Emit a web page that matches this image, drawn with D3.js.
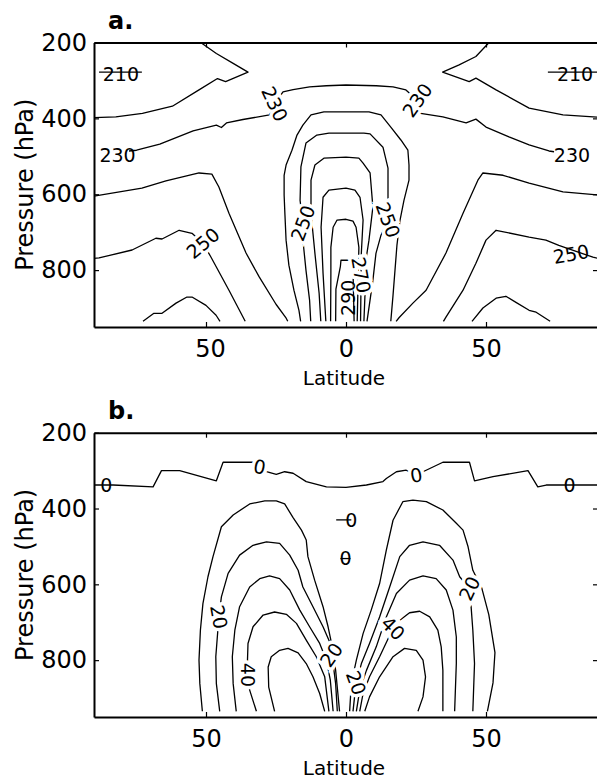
<!DOCTYPE html>
<html>
<head>
<meta charset="utf-8">
<script src="https://cdn.jsdelivr.net/npm/d3@7"></script>
<style>
  body { margin: 0; background: #fff; }
  svg { display: block; }
  text { font-family: "DejaVu Sans", sans-serif; fill: #000; }
</style>
</head>
<body>
<svg id="chart" width="597" height="782"></svg>
<script>
// ---------- axes ----------
const latDomain = [-90, 90];
const pressureDomain = [200, 950];
const pressureTicks = [200, 400, 600, 800];
const latTicks = [-50, 0, 50];
const latTickLabels = ["50", "0", "50"];

// ---------- panel a: temperature (K), contour lines as [latitude, pressure] ----------
const tempW210 = [[-88.2,278],[-72.9,278]];
const tempE210 = [[72.1,278],[90,278]];
const tempW220 = [[-51.9,200],[-46.3,229],[-40.3,255],[-35,278],[-43,303],[-45.9,295],[-52.5,325],[-62,368],[-72.7,387],[-82.2,396],[-90,398]];
const tempE220 = [[51.1,200],[46.4,237],[40.4,259],[34.5,278],[44,303],[46.4,294],[53.6,325],[65.4,373],[77.5,391],[90,397]];
const temp230 = [[-77.5,486],[-74.8,484],[-66.5,468],[-54.6,433],[-46.3,418],[-44.5,424],[-42.7,412],[-36.8,403],[-27.3,391],[-25.5,362],[-22.5,330],[-18.9,324],[-13,317],[-7,314],[0,312],[10.8,314],[16.8,317],[21.4,325],[25.5,352],[26.1,386],[34.6,396],[42.9,412],[46.4,402],[50,423],[58.2,449],[65.4,470],[72.5,486],[74.3,488]];
const tempW240 = [[-90,605],[-72.9,584],[-64.3,565],[-52.5,544],[-47.9,547],[-45.4,581],[-41.8,650],[-35.7,755],[-31,818],[-25,890],[-21.5,925],[-20.8,935]];
const tempE240 = [[17.9,935],[19,925],[23.9,887],[28.6,853],[35.7,755],[41.8,650],[47.1,563],[48.9,544],[56.1,550],[65.4,571],[77.5,594],[90,602]];
const tempW250 = [[-90,769],[-88.2,768],[-76.4,747],[-67.9,716],[-65.7,718],[-59.6,695],[-55,703],[-51.1,729],[-48.2,766],[-41.8,853],[-36,935]];
const tempE250 = [[34.8,935],[35.7,924],[41.8,853],[46.4,782],[50,721],[53.6,695],[65.4,713],[71.4,721],[76,735],[88.2,766],[90,769]];
const tempW260 = [[-72.5,935],[-68.6,914],[-65.7,914],[-60.7,887],[-56.8,871],[-55,871],[-50,893],[-46.4,919],[-45,935]];
const tempE260 = [[45,935],[48.9,900],[53.6,874],[57.1,869],[60.7,885],[65.4,906],[67.9,911],[72.9,935]];
const tempC240 = [[-16.2,935],[-16.8,906],[-18.6,853],[-20.4,787],[-21.4,721],[-21.8,655],[-22.1,602],[-22.1,550],[-21.4,523],[-19.3,484],[-17.5,444],[-15.4,418],[-12.5,391],[-7.9,383],[0,383],[8.2,383],[12.5,391],[16,423],[19.6,457],[22.1,484],[22.5,523],[22.5,563],[20.7,616],[19.3,668],[18.2,734],[17.5,800],[16.8,866],[16,935]];
const tempC250 = [[-12.6,935],[-13,880],[-14.3,800],[-15.4,720],[-15.4,676],[-16.4,616],[-16.1,528],[-14.3,465],[-10.4,444],[-6.1,439],[0,439],[6.4,439],[8.6,441],[13.2,476],[15,531],[15,589],[15,668],[12.5,708],[10.7,756],[9.6,827],[7.5,935]];
const tempC260 = [[-9,935],[-9.6,861],[-11.1,756],[-12.5,650],[-12.5,563],[-11.1,523],[-7.9,505],[0,502],[4.6,505],[6.1,518],[8.6,544],[9.6,634],[8.2,721],[7.1,774],[6.8,861],[6.4,935]];
const tempC270 = [[-7.2,935],[-8.2,808],[-8.9,687],[-8.2,608],[-6.1,589],[0,584],[3.2,589],[5,608],[6.1,668],[5.4,766],[5.4,813],[5.2,935]];
const tempC280 = [[-5.5,935],[-5.4,808],[-5.4,740],[-4.6,687],[-3.2,668],[0,666],[2.5,671],[3.6,687],[4.6,740],[4,935]];
const tempC290 = [[-3.7,935],[-3.6,850],[-2,790],[-1.8,774],[2.1,774],[2.5,800],[2.9,935]];

// contour labels: [text, latitude, pressure, rotation, gap in line]
const tempLabels = [
  ["210", -80.4, 284, 0, false],
  ["210", 81.8, 284, 0, false],
  ["230", -81.6, 497, 0, false],
  ["230", -25.5, 362, 65, true],
  ["230", 25.5, 352, -55, true],
  ["230", 80.7, 497, 0, false],
  ["250", -51.1, 729, -40, true],
  ["250", 80.4, 758, -10, false],
  ["250", -15.4, 676, -70, true],
  ["250", 15, 668, 70, true],
  ["270", 5.4, 813, 80, true],
  ["290", 0.6, 873, -90, false]
];

// ---------- panel b: zonal wind (m/s), contour lines as [latitude, pressure] ----------
const windZero = [[-90,338],[-83.2,338],[-68.9,343],[-65.9,300],[-59.4,300],[-46.3,327],[-43.9,278],[-33.2,278],[-30.8,290],[-28.4,303],[-24.9,310],[-21.9,303],[-18.9,307],[-14.2,329],[-7,343],[0,344],[7.3,338],[13.2,329],[14.4,321],[18,303],[21.5,299],[25.1,312],[27.5,303],[34.6,278],[44.1,278],[45.9,327],[52.5,316],[65,300],[68.5,343],[71.5,338],[90,338]];
const windNegA = [[-3.5,430],[1.9,430]];
const windNegB = [[-2,532],[1.6,532]];
const windW10 = [[-51.3,935],[-52.2,862],[-52.5,800],[-52,721],[-51.1,651],[-49.3,580],[-47.5,527],[-44.5,448],[-40.3,417],[-34.4,388],[-29,380],[-24.9,380],[-21.9,388],[-18.9,424],[-15.9,457],[-14.2,483],[-13.6,527],[-11.2,589],[-8.2,659],[-6.4,712],[-4.9,765],[-3.7,827],[-2.9,888],[-2.3,935]];
const windW20 = [[-45.1,935],[-46.3,862],[-46.5,791],[-45.4,686],[-44.5,633],[-42.1,571],[-38,523],[-33.2,497],[-28.4,488],[-23.7,492],[-20.1,523],[-17.1,563],[-15.4,607],[-11.8,659],[-8.2,712],[-5.6,756],[-5.2,786],[-4.6,809],[-3.7,862],[-3.1,935]];
const windW30 = [[-39.2,935],[-40.3,862],[-40.6,791],[-39.7,721],[-38,659],[-34.4,607],[-30.8,585],[-27.3,578],[-23.7,585],[-20.1,615],[-16.5,668],[-13,712],[-9.4,756],[-7,800],[-5.6,853],[-4.6,935]];
const windW40 = [[-32,935],[-34.4,879],[-35.1,839],[-35.3,827],[-35,756],[-33.2,712],[-29.6,681],[-25.5,673],[-21.3,679],[-17.7,703],[-14.2,747],[-10.6,791],[-7.6,844],[-6.1,935]];
const windW50 = [[-25.5,935],[-27.6,871],[-27.8,818],[-26.7,791],[-23.7,774],[-20.7,769],[-17.1,781],[-14.2,809],[-11.8,844],[-9.4,888],[-7.6,935]];
const windE10 = [[1.3,935],[1.9,862],[3.7,800],[6.1,730],[9,668],[12,598],[14.4,510],[16.8,431],[20.3,382],[23.9,378],[28.7,382],[34.6,404],[39.4,439],[41.8,457],[43.6,501],[45.3,563],[48.5,610],[51,680],[53.2,780],[52.5,860],[50.5,935]];
const windE20 = [[2.5,935],[3.6,860],[5.5,809],[8.4,756],[12,686],[15.6,607],[19.2,527],[22.7,497],[27.5,488],[33.4,497],[38.2,536],[40.6,580],[44.1,611],[44.6,651],[45.3,721],[45.9,809],[45.3,935]];
const windE30 = [[3.7,935],[4.9,879],[7.3,827],[10.8,765],[14.4,686],[18,624],[22.7,589],[27.5,578],[32.2,585],[35.8,615],[38.2,668],[39.4,739],[39.4,809],[38.8,935]];
const windE40 = [[4.9,935],[6.1,888],[8.4,844],[12,791],[16.8,716],[19.2,695],[22.7,675],[26.3,671],[29.9,686],[32.8,721],[34,765],[34.6,827],[34.6,935]];
const windE50 = [[6.7,935],[8.4,897],[12,844],[16.8,791],[20.9,769],[25.1,774],[27.5,800],[28.4,844],[27.5,897],[25.7,935]];

const windLabels = [
  ["0", -85.6, 338, 0, false],
  ["0", -30.8, 290, 10, true],
  ["0", 25.1, 312, -10, true],
  ["0", 79.8, 338, 0, false],
  ["0", 1.9, 430, 0, false],
  ["0", -0.2, 532, 0, false],
  ["20", -45.4, 686, 80, true],
  ["40", -35.1, 839, 90, true],
  ["20", -5.2, 786, -55, true],
  ["20", 3.6, 860, 70, true],
  ["40", 16.8, 716, 45, true],
  ["20", 44.1, 611, -65, true]
];

// ---------- drawing ----------
const svg = d3.select("#chart");
const x = d3.scaleLinear().domain(latDomain).range([94, 598]);

function drawPanel(cfg) {
  const y = d3.scaleLinear().domain(pressureDomain).range([cfg.top, cfg.bottom]);
  const g = svg.append("g");

  const clipId = "clip-" + cfg.name;
  svg.append("clipPath").attr("id", clipId)
    .append("rect")
    .attr("x", x.range()[0]).attr("y", cfg.top)
    .attr("width", x.range()[1] - x.range()[0]).attr("height", cfg.bottom - cfg.top);

  const line = d3.line().x(d => x(d[0])).y(d => y(d[1]));
  const plot = g.append("g").attr("clip-path", `url(#${clipId})`);

  plot.selectAll("path.contour")
    .data(cfg.contours)
    .join("path")
    .attr("class", "contour")
    .attr("d", line)
    .attr("fill", "none")
    .attr("stroke", "#000")
    .attr("stroke-width", 1.3)
    .attr("stroke-linejoin", "round");

  plot.selectAll("text.clabel")
    .data(cfg.labels)
    .join("text")
    .attr("class", "clabel")
    .attr("transform", d => `translate(${x(d[1])},${y(d[2])}) rotate(${d[3]})`)
    .attr("text-anchor", "middle")
    .attr("dy", "0.36em")
    .style("font-size", "19px")
    .attr("stroke", d => d[4] ? "#fff" : "none")
    .attr("stroke-width", d => d[4] ? 7 : 0)
    .attr("paint-order", "stroke")
    .text(d => d[0]);

  // axes with inward ticks
  const axisStyle = sel => {
    sel.select(".domain").attr("stroke", "#000").attr("stroke-width", 2);
    sel.selectAll(".tick line").attr("stroke", "#000").attr("stroke-width", 1.2);
    sel.selectAll(".tick text").style("font-size", "24px").attr("font-family", null);
  };

  g.append("g")
    .attr("transform", `translate(${x.range()[0]},0)`)
    .call(d3.axisLeft(y).tickValues(pressureTicks).tickSizeInner(-5).tickSizeOuter(0).tickPadding(7))
    .call(axisStyle);

  g.append("g")
    .attr("transform", `translate(${x.range()[1]},0)`)
    .call(d3.axisRight(y).tickValues(pressureTicks).tickSizeInner(-5).tickSizeOuter(0).tickFormat(""))
    .call(axisStyle);

  g.append("g")
    .attr("transform", `translate(0,${cfg.top})`)
    .call(d3.axisTop(x).tickValues(latTicks).tickSizeInner(-5).tickSizeOuter(0).tickFormat(""))
    .call(axisStyle);

  const bottomAxis = g.append("g")
    .attr("transform", `translate(0,${cfg.bottom})`)
    .call(d3.axisBottom(x).tickValues(latTicks).tickSizeInner(-5).tickSizeOuter(0).tickPadding(13)
      .tickFormat((d, i) => latTickLabels[i]))
    .call(axisStyle);
  if (cfg.shiftFirstLabel) {
    bottomAxis.selectAll(".tick text").filter((d, i) => i === 0).attr("text-anchor", "end").attr("dx", "0.8em");
  }

  g.append("text")
    .attr("x", (x.range()[0] + x.range()[1]) / 2 - 2)
    .attr("y", cfg.bottom + 58)
    .attr("text-anchor", "middle")
    .style("font-size", "20px")
    .text("Latitude");

  g.append("text")
    .attr("transform", `translate(33,${(cfg.top + cfg.bottom) / 2}) rotate(-90)`)
    .attr("text-anchor", "middle")
    .style("font-size", "24px")
    .text("Pressure (hPa)");

  g.append("text")
    .attr("x", 108)
    .attr("y", cfg.top - 14)
    .style("font-size", "24px")
    .style("font-weight", "bold")
    .text(cfg.title);
}

drawPanel({
  name: "a", title: "a.", top: 42.5, bottom: 327, shiftFirstLabel: true,
  contours: [tempW210, tempE210, tempW220, tempE220, temp230, tempW240, tempE240,
             tempW250, tempE250, tempW260, tempE260,
             tempC240, tempC250, tempC260, tempC270, tempC280, tempC290],
  labels: tempLabels
});

drawPanel({
  name: "b", title: "b.", top: 432.7, bottom: 717, shiftFirstLabel: false,
  contours: [windZero, windNegA, windNegB,
             windW10, windW20, windW30, windW40, windW50,
             windE10, windE20, windE30, windE40, windE50],
  labels: windLabels
});
</script>
</body>
</html>
